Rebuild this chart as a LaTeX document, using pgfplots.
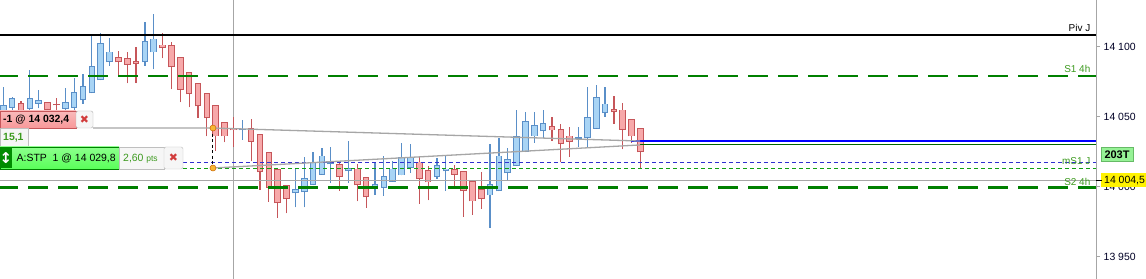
\documentclass[border=0pt]{standalone}
\usepackage{pgfplots}
\pgfplotsset{compat=1.18}
\usepackage{pgfplotstable}
\usepackage{fontspec}
\setmainfont{Liberation Sans}
\newfontfamily\symfont{DejaVu Sans}
\definecolor{bfill}{HTML}{A8D4F5}
\definecolor{bline}{HTML}{5A8FC8}
\definecolor{rfill}{HTML}{F7A9AA}
\definecolor{rline}{HTML}{C6565A}
\definecolor{dgreen}{HTML}{008000}
\definecolor{lgreen}{HTML}{3C9A1E}
\definecolor{xred}{HTML}{D23C3C}
\definecolor{tgray}{HTML}{A6A6A6}
\definecolor{dotblue}{HTML}{3030D0}
\definecolor{dotgreen}{HTML}{10A010}
\definecolor{orangedot}{HTML}{F7B733}

\pgfplotstableread{
i o h l c
0 14053.4 14071.3 14050.5 14057.7
1 14056.9 14064.1 14053.4 14062.7
3 14056.2 14083.4 14053.4 14062.7
4 14059.8 14069.1 14056.2 14061.3
7 14056.2 14070.5 14053.4 14060.5
8 14056.9 14077.7 14054.8 14067.0
9 14062.0 14080.6 14059.1 14071.3
10 14067.0 14108.5 14067.0 14085.6
11 14076.3 14109.9 14076.3 14102.7
12 14089.2 14106.3 14086.3 14096.3
16 14089.2 14117.8 14086.3 14103.5
17 14096.3 14123.5 14084.1 14105.6
27 14040.5 14047.7 14033.4 14041.2
33 13995.5 14013.3 13985.4 13997.6
34 13996.2 14021.2 13985.4 14005.5
35 14001.2 14024.8 14001.2 14017.6
36 14009.0 14027.6 14009.0 14021.9
37 14016.2 14028.4 14002.6 14016.9
39 14011.2 14032.6 14002.6 14013.3
42 13999.7 14017.6 13994.0 14001.2
43 13999.7 14021.9 13993.3 14006.9
44 14004.0 14018.3 14004.0 14012.6
45 14008.3 14031.2 14008.3 14020.5
46 14014.0 14030.5 14009.8 14020.5
49 14006.9 14020.5 14005.5 14014.8
50 14011.2 14021.9 13996.9 14012.6
55 13994.0 14030.5 13970.4 14001.2
56 13996.9 14034.8 13996.9 14021.9
57 14009.8 14027.6 14004.7 14019.1
58 14014.8 14054.8 14014.8 14035.5
59 14024.8 14053.4 14024.8 14046.9
60 14036.2 14053.4 14031.2 14043.4
61 14039.8 14054.8 14034.8 14044.8
65 14034.4 14042.7 14028.4 14034.8
66 14034.8 14071.3 14028.4 14049.1
67 14041.9 14072.7 14041.9 14063.4
68 14052.7 14071.3 14049.8 14059.1
}\up

\pgfplotstableread{
i o h l c
2 14059.8 14061.3 14052.0 14054.8
5 14060.5 14060.5 14052.7 14055.5
6 14059.1 14063.4 14054.8 14058.4
13 14092.7 14097.0 14079.1 14089.2
14 14091.3 14096.3 14074.1 14087.7
15 14089.2 14099.9 14074.1 14088.4
18 14101.3 14109.9 14092.0 14099.2
19 14100.6 14103.5 14069.8 14085.6
20 14092.7 14092.7 14060.5 14069.8
21 14081.3 14081.3 14056.9 14066.3
22 14074.1 14074.1 14049.1 14057.7
23 14066.3 14066.3 14036.2 14049.1
24 14057.7 14057.7 14025.5 14036.2
25 14046.2 14046.2 14031.9 14036.2
26 14041.9 14049.8 14028.4 14040.5
28 14041.9 14048.4 14018.3 14032.6
29 14037.6 14037.6 13997.6 14010.5
30 14024.1 14024.1 13989.0 13999.7
31 14011.9 14011.9 13977.6 13988.3
32 14000.5 14000.5 13981.1 13991.2
38 14015.5 14016.9 13996.9 14006.9
40 14012.6 14016.2 13989.7 14001.2
41 14006.2 14006.2 13984.7 13992.6
47 14017.6 14021.2 13987.6 14005.5
48 14011.2 14014.8 13990.4 14003.3
51 14011.9 14015.5 13999.7 14009.0
52 14010.5 14010.5 13978.3 13996.9
53 14004.0 14004.0 13979.7 13989.7
54 13997.6 14010.5 13984.0 13991.2
62 14042.7 14049.8 14032.6 14040.5
63 14041.2 14044.8 14017.6 14030.5
64 14036.2 14042.7 14021.2 14032.6
69 14055.5 14064.8 14044.8 14053.4
70 14054.8 14059.8 14026.9 14041.2
71 14047.7 14047.7 14031.2 14036.2
72 14041.9 14041.9 14013.3 14024.8
}\down

\pgfplotsset{candle/.style={only marks, mark=*, mark size=0pt, mark options={draw=none, fill=none},
  error bars/.cd, y dir=plus, y explicit, error mark=none}}

\begin{document}
\begin{tikzpicture}
\path[use as bounding box] (0,0) rectangle (1146bp,279bp);
\fill[white] (0,0) rectangle (1146bp,279bp);
\begin{axis}[
  at={(0,0)}, anchor=south west, scale only axis,
  width=1096bp, height=279bp,
  xmin=-0.373, xmax=123.47, ymin=13933.9, ymax=14133.5,
  axis x line=none, axis y line*=right,
  y axis line style={draw=tgray, line width=0.9bp},
  ytick={13950,14000,14050,14100},
  yticklabels={13 950, 14 000, 14 050, 14 100},
  tick align=outside, major tick length=4bp,
  y tick style={draw=tgray, line width=0.9bp},
  yticklabel style={font=\fontsize{10.5}{12}\selectfont, text=black!85!blue, inner sep=0pt, xshift=3.5bp},
]
% day separator
\addplot[tgray, line width=1bp] coordinates {(25.98,13933.9) (25.98,14133.5)};
% wicks
\addplot[candle, error bar style={line width=1.2bp, draw=bline}] table[x=i, y=l, y error expr={\thisrow{h}-\thisrow{l}}] {\up};
\addplot[candle, error bar style={line width=1.2bp, draw=rline}] table[x=i, y=l, y error expr={\thisrow{h}-\thisrow{l}}] {\down};
% body borders
\addplot[candle, error bar style={line width=6.6bp, draw=bline}] table[x=i, y expr={\thisrow{o}-0.35}, y error expr={\thisrow{c}-\thisrow{o}+0.7}] {\up};
\addplot[candle, error bar style={line width=6.6bp, draw=rline}] table[x=i, y expr={\thisrow{c}-0.35}, y error expr={\thisrow{o}-\thisrow{c}+0.7}] {\down};
% body fills
\addplot[candle, error bar style={line width=4.6bp, draw=bfill}] table[x=i, y expr={\thisrow{o}+0.35}, y error expr={max(\thisrow{c}-\thisrow{o}-0.7,0)}] {\up};
\addplot[candle, error bar style={line width=4.6bp, draw=rfill}] table[x=i, y expr={\thisrow{c}+0.35}, y error expr={max(\thisrow{o}-\thisrow{c}-0.7,0)}] {\down};

% horizontal levels
\addplot[black, line width=1.7bp] coordinates {(-0.373,14108.5) (123.47,14108.5)};
\addplot[dgreen, line width=2.4bp, dash pattern=on 20bp off 10bp, dash phase=1.7bp] coordinates {(-0.373,14079.1) (123.47,14079.1)};
\addplot[dgreen, line width=2.4bp, dash pattern=on 20bp off 10bp, dash phase=1.7bp] coordinates {(-0.373,13999.5) (123.47,13999.5)};
\addplot[tgray, line width=1.2bp] coordinates {(-0.373,14004.5) (123.47,14004.5)};
\addplot[dotblue, line width=1bp, dash pattern=on 4bp off 3bp] coordinates {(20.31,14016.9) (123.47,14016.9)};
\addplot[dotgreen, line width=1bp, dash pattern=on 4bp off 3bp] coordinates {(20.31,14013.3) (123.47,14013.3)};
\addplot[blue, line width=2.2bp] coordinates {(70.93,14032.4) (123.47,14032.4)};
\addplot[green!40!black, line width=1bp] coordinates {(71.95,14029.8) (123.47,14029.8)};
% order lines
\addplot[tgray, line width=1.3bp] coordinates {(10.14,14041.9) (23.69,14041.9) (71.95,14032.6)};
\addplot[tgray, line width=1.3bp] coordinates {(23.69,14013.3) (71.95,14029.8)};
\addplot[black, line width=1bp, dash pattern=on 3bp off 2.5bp] coordinates {(23.69,14041.9) (23.69,14013.3)};
\addplot[only marks, mark=*, mark size=3bp, mark options={fill=orangedot, draw=orange!80!black, line width=0.5bp}] coordinates {(23.69,14041.9) (23.69,14013.3)};
\end{axis}

\begin{scope}[x=1bp, y=-1bp, yshift=279bp, font=\fontsize{10}{12}\selectfont]
% red order box
\draw[draw=rline, top color=rfill!80!white, bottom color=rfill!90!red] (0,111) rectangle (76,128);
\node[anchor=west, inner sep=0pt, font=\bfseries\fontsize{10.5}{12}\selectfont] at (3,120) {-1 @ 14 032,4};
\draw[draw=gray!60, fill=gray!7, rounded corners=2bp] (76,111) rectangle (93,128);
\node[inner sep=0pt, text=xred] at (84.5,119.5) {\symfont\bfseries\fontsize{11}{12}\selectfont ✖};
% 15,1 box
\draw[draw=gray!50, fill=gray!7] (0,128) rectangle (28,147);
\node[anchor=west, inner sep=0pt, text=lgreen, font=\bfseries\fontsize{10.5}{12}\selectfont] at (3,138) {15,1};
% green stop box
\draw[draw=green!50!black, top color=green!45!white, bottom color=green!65!white] (0,147) rectangle (119,169);
\fill[green!55!black] (0.5,147.5) rectangle (12,168.5);
\node[inner sep=0pt, text=white] at (6,158) {\symfont\bfseries\fontsize{15}{16}\selectfont ↕};
\node[anchor=west, inner sep=0pt, font=\fontsize{10.5}{12}\selectfont] at (16.5,158.5) {A:STP\ \ 1 @ 14 029,8};
\draw[draw=gray!50, fill=gray!7] (119,147) rectangle (164,169);
\node[anchor=west, inner sep=0pt, text=lgreen] at (123,158.5) {{\fontsize{10.5}{12}\selectfont 2,60} {\fontsize{8.5}{10}\selectfont pts}};
\draw[draw=gray!50, fill=gray!7, rounded corners=2bp] (164,147) rectangle (183,169);
\node[inner sep=0pt, text=xred] at (173.5,158) {\symfont\bfseries\fontsize{11}{12}\selectfont ✖};
% right labels
\node[anchor=east, inner sep=0pt, font=\fontsize{10}{12}\selectfont] at (1090.5,28.3) {Piv J};
\node[anchor=east, inner sep=0pt, text=lgreen, font=\fontsize{10}{12}\selectfont] at (1090.5,68.5) {S1 4h};
\node[anchor=east, inner sep=0pt, text=lgreen, font=\fontsize{10}{12}\selectfont] at (1090.5,161.5) {mS1 J};
\node[anchor=east, inner sep=0pt, text=lgreen, font=\fontsize{10}{12}\selectfont] at (1090.5,181.5) {S2 4h};
% 203T box
\draw[draw=green!55!black!60, fill=green!40!white!90!gray] (1101,147) rectangle (1133,161);
\node[inner sep=0pt, font=\bfseries\fontsize{11}{12}\selectfont] at (1117,154.3) {203T};
% yellow price box
\fill[yellow] (1101,173) rectangle (1146,187);
\draw[black, line width=0.9bp] (1096,180.2) -- (1102,180.2);
\node[anchor=west, inner sep=0pt, font=\fontsize{10.5}{12}\selectfont] at (1104,180.3) {14 004,5};
\end{scope}
\end{tikzpicture}
\end{document}
